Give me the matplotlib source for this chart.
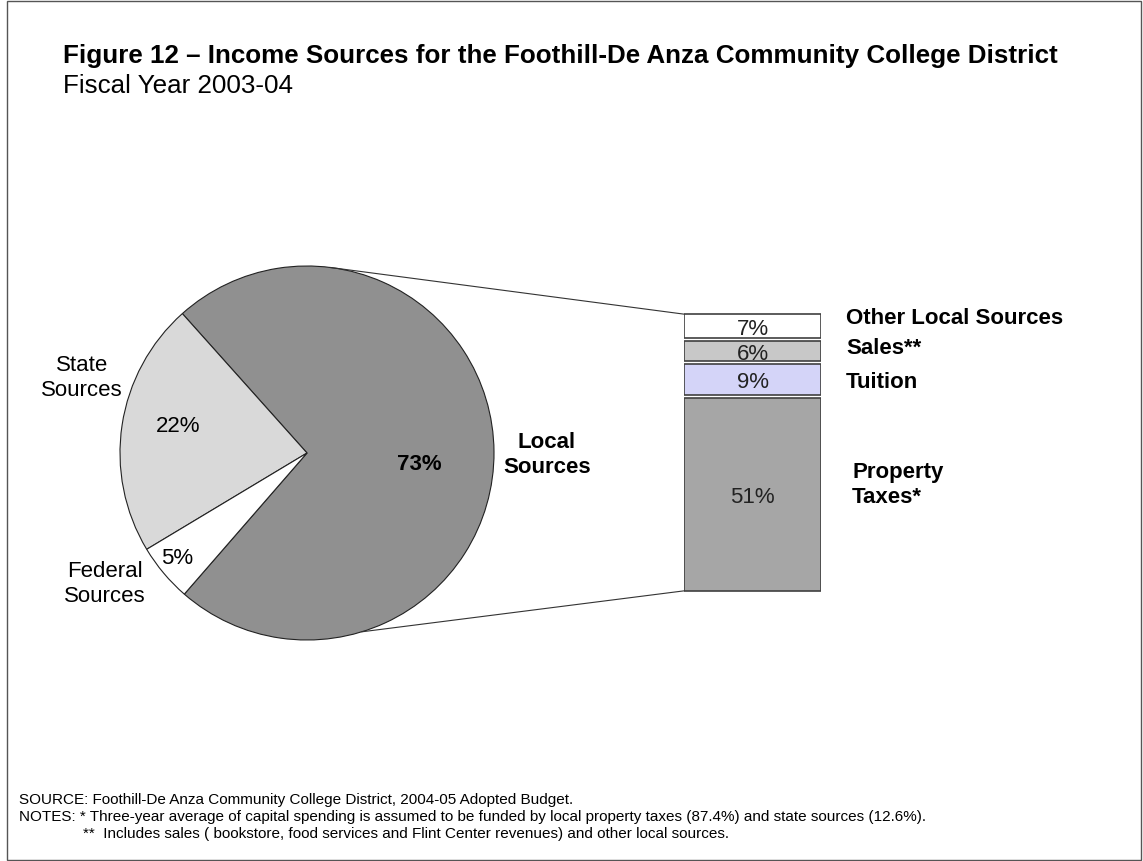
import matplotlib
matplotlib.use('Agg')
from matplotlib import pyplot as plt
from matplotlib.patches import Rectangle, ConnectionPatch
import numpy as np

plt.rcParams['font.family'] = ['Liberation Sans', 'DejaVu Sans']

# pie data
pie_labels = ['Local\nSources', 'State\nSources', 'Federal\nSources']
pie_values = [73, 22, 5]
pie_colors = ['#909090', '#d9d9d9', '#ffffff']

# breakdown of local sources
bar_labels = ['Property\nTaxes*', 'Tuition', 'Sales**', 'Other Local Sources']
bar_values = [51, 9, 6, 7]
bar_colors = ['#a6a6a6', '#d4d4f8', '#c8c8c8', '#ffffff']

W, H = 1143, 861
fig = plt.figure(figsize=(W / 100, H / 100), dpi=100)

def px(x, y):
    return x / W, 1 - y / H

# border round the slide
fig.patches.append(Rectangle(px(7, 860), (1141 - 7) / W, 859 / H,
                             transform=fig.transFigure, fill=False,
                             edgecolor='#555555', linewidth=1))

fig.text(*px(63, 56),
         'Figure 12 \u2013 Income Sources for the Foothill-De Anza Community College District',
         fontsize=18.7, fontweight='bold', va='center', ha='left')
fig.text(*px(63, 86), 'Fiscal Year 2003-04', fontsize=18.7, va='center', ha='left')

# pie
cx, cy, r = 307, 453, 187
ax = fig.add_axes([(cx - r) / W, (H - cy - r) / H, 2 * r / W, 2 * r / H])
wedges, _ = ax.pie(pie_values, colors=pie_colors, startangle=229, counterclock=True,
                   wedgeprops=dict(edgecolor='#222222', linewidth=0.8))
ax.set_xlim(-1, 1)
ax.set_ylim(-1, 1)
ax.axis('off')

fig.text(*px(419, 465), '73%', fontsize=16, fontweight='bold', ha='center', va='center')
fig.text(*px(178, 427), '22%', fontsize=16, ha='center', va='center')
fig.text(*px(177, 558), '5%', fontsize=16, ha='center', va='center')

fig.text(*px(82, 378), pie_labels[1], fontsize=16, ha='center', va='center', linespacing=1.25)
fig.text(*px(105, 584), pie_labels[2], fontsize=16, ha='center', va='center', linespacing=1.25)
fig.text(*px(547, 455), pie_labels[0], fontsize=16, fontweight='bold', ha='center',
         va='center', linespacing=1.2)

# stacked bar
bx0, bx1, by0, by1 = 684, 821, 313, 592
bax = fig.add_axes([bx0 / W, (H - by1) / H, (bx1 - bx0) / W, (by1 - by0) / H])
gap = 0.8
bottom = 0
for v, c in zip(bar_values, bar_colors):
    bax.bar(0, v - gap, bottom=bottom, width=1, color=c, edgecolor='#404040', linewidth=1.2)
    bax.text(0, bottom + (v - gap) / 2 - 0.8, f'{v}%', fontsize=16, ha='center', va='center',
             color='#222222')
    bottom += v
bax.set_xlim(-0.5, 0.5)
bax.set_ylim(-0.3, sum(bar_values) - gap + 0.3)
bax.axis('off')

label_pos = [(852, 485), (846, 382), (846, 349), (846, 318)]
for lab, (x, y) in zip(bar_labels, label_pos):
    fig.text(*px(x, y), lab, fontsize=16, fontweight='bold', ha='left', va='center',
             linespacing=1.2)

# lines from pie to bar
for ang, yb in [(83, sum(bar_values) - gap), (-73, 0)]:
    a = np.deg2rad(ang)
    con = ConnectionPatch(xyA=(np.cos(a), np.sin(a)), coordsA=ax.transData,
                          xyB=(-0.5, yb), coordsB=bax.transData,
                          color='#333333', linewidth=0.8)
    fig.add_artist(con)

# footer
fig.text(*px(19, 800),
         'SOURCE: Foothill-De Anza Community College District, 2004-05 Adopted Budget.',
         fontsize=11, va='center', ha='left')
fig.text(*px(19, 817),
         'NOTES: * Three-year average of capital spending is assumed to be funded by local property taxes (87.4%) and state sources (12.6%).',
         fontsize=11, va='center', ha='left')
fig.text(*px(83, 834),
         '**  Includes sales ( bookstore, food services and Flint Center revenues) and other local sources.',
         fontsize=11, va='center', ha='left')

fig.savefig('out.png', dpi=100)
